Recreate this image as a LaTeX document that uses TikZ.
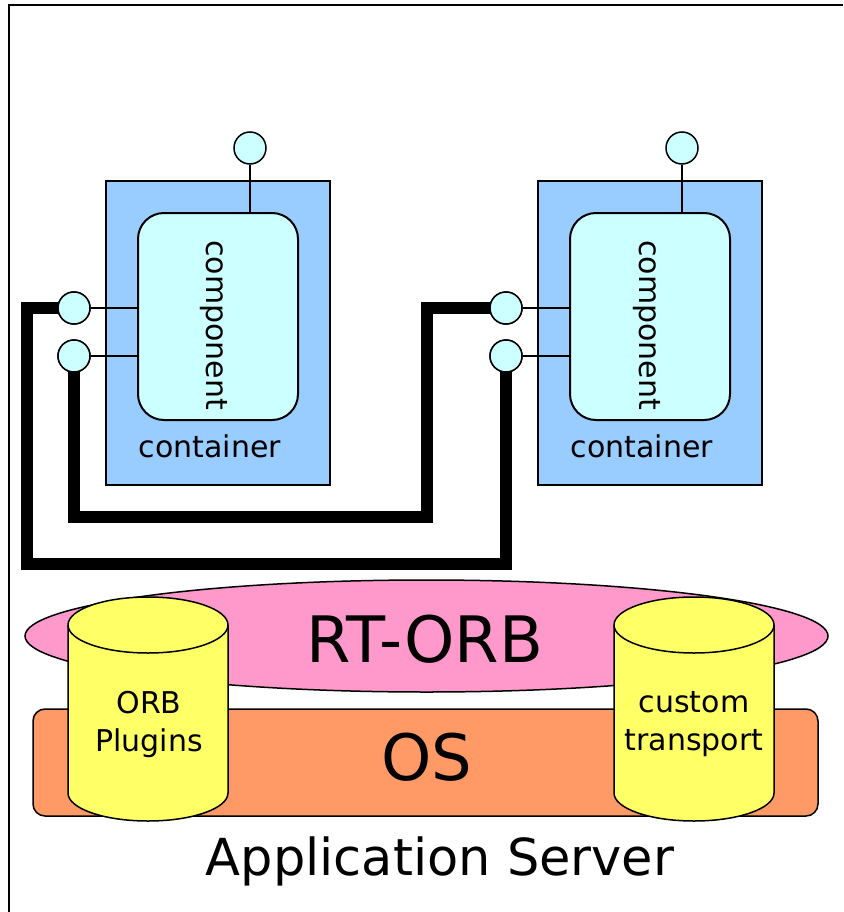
\documentclass[tikz,border=0pt]{standalone}
\usepackage{fontspec}
\setmainfont{DejaVu Sans}
\usetikzlibrary{shapes.geometric}

\definecolor{contblue}{HTML}{99CCFF}
\definecolor{compcyan}{HTML}{CCFFFF}
\definecolor{orbpink}{HTML}{FF99CC}
\definecolor{osorange}{HTML}{FF9966}
\definecolor{plugyellow}{HTML}{FFFF66}

\begin{document}
\begin{tikzpicture}[x=1pt,y=-1pt,
  containerbox/.style={draw, line width=2pt, fill=contblue, inner sep=0pt,
    minimum width=224pt, minimum height=304pt},
  componentbox/.style={draw, line width=2pt, fill=compcyan, inner sep=0pt,
    rounded corners=26pt, minimum width=160pt, minimum height=207pt},
  port/.style={circle, draw, line width=1.5pt, fill=compcyan, inner sep=0pt,
    minimum size=32pt},
  stub/.style={line width=1.5pt},
  wire/.style={line width=12pt, miter limit=10},
  label/.style={font=\fontsize{30}{38}\selectfont, inner sep=0pt},
  cylfill/.style={draw, line width=1.5pt, fill=plugyellow}
]
\useasboundingbox (0,0) rectangle (843,912);

% outer frame
\draw[line width=2.5pt] (9,912) -- (9,5) -- (843,5);

% containers and components
\node[containerbox] (cont1) at (218,333) {};
\node[containerbox] (cont2) at (650,333) {};
\node[componentbox] (comp1) at (218,316.5) {};
\node[componentbox] (comp2) at (650,316.5) {};

\node[label, rotate=-90] (comptext1) at (214,325) {component};
\node[label, rotate=-90] (comptext2) at (647,325) {component};
\node[label, anchor=base] (conttext1) at (210,457) {container};
\node[label, anchor=base] (conttext2) at (642,457) {container};

% ports
\node[port] (top1) at (250,148) {};
\node[port] (top2) at (682,148) {};
\node[port] (p1a) at (74,308) {};
\node[port] (p1b) at (74,356) {};
\node[port] (p2a) at (506,308) {};
\node[port] (p2b) at (506,356) {};

\draw[stub] (top1.south) -- (top1.south |- comp1.north);
\draw[stub] (top2.south) -- (top2.south |- comp2.north);
\draw[stub] (p1a.east) -- (p1a -| comp1.west);
\draw[stub] (p1b.east) -- (p1b -| comp1.west);
\draw[stub] (p2a.east) -- (p2a -| comp2.west);
\draw[stub] (p2b.east) -- (p2b -| comp2.west);

% connections between the containers
\coordinate (outerturn) at (27,564);
\coordinate (innerturn) at (427,517);
\draw[wire] (p1a.center) -| (outerturn) -| (p2b.center);
\draw[wire] (p1b.center) |- (innerturn) |- (p2a.center);

% redraw the ports above the wires
\foreach \p in {p1a,p1b,p2a,p2b}
  \node[port] at (\p) {};

% RT-ORB and OS layers
\node[ellipse, draw, line width=1.5pt, fill=orbpink, inner sep=0pt,
  minimum width=803pt, minimum height=112pt] (orb) at (426.5,636) {};
\node[font=\fontsize{64}{70}\selectfont, anchor=base, inner sep=0pt] (orbtext) at (425,662) {RT-ORB};

\node[draw, line width=1.5pt, fill=osorange, rounded corners=12pt, inner sep=0pt,
  minimum width=785pt, minimum height=107pt] (os) at (425.5,762.5) {};
\node[font=\fontsize{64}{70}\selectfont, anchor=base, inner sep=0pt] (ostext) at (426.5,780) {OS};

% plugin cylinders
\draw[cylfill] (68,625) -- (68,793) arc (180:360:80pt and 28pt) -- (228,625) arc (0:180:80pt and 28pt) -- cycle;
\draw[line width=1.5pt] (68,625) arc (180:360:80pt and 28pt);
\draw[cylfill] (614,625) -- (614,793) arc (180:360:80pt and 28pt) -- (774,625) arc (0:180:80pt and 28pt) -- cycle;
\draw[line width=1.5pt] (614,625) arc (180:360:80pt and 28pt);

\node[label, align=center] (plugtext) at (149,724) {ORB\\Plugins};
\node[label, align=center] (transtext) at (694,724) {custom\\transport};

\node[font=\fontsize{51}{60}\selectfont, anchor=base, inner sep=0pt] (apptext) at (440,875) {Application Server};
\end{tikzpicture}
\end{document}
